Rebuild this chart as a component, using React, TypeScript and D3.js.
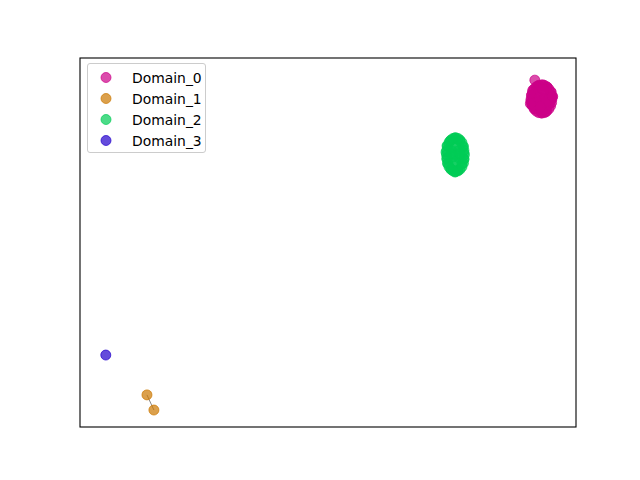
import React from "react";
import * as d3 from "d3";

const domains = ["Domain_0", "Domain_1", "Domain_2", "Domain_3"];
const colors = ["#cc0088", "#cc7700", "#00cc55", "#2200cc"];

const domain0: [number, number][] = [
  [91.7, 94.0], [92.3, 92.4], [93.3, 92.7], [94.2, 92.1], [91.3, 91.3], [92.7, 91.3],
  [94.0, 91.1], [95.0, 90.8], [91.1, 90.0], [92.1, 90.0], [93.3, 90.0], [94.6, 89.7],
  [95.2, 89.4], [90.9, 88.4], [91.9, 88.6], [92.9, 88.6], [94.1, 88.4], [94.9, 88.4],
  [91.1, 87.3], [92.3, 87.5], [93.5, 87.3], [94.6, 87.5], [91.7, 86.2], [92.9, 85.9],
  [93.9, 86.2], [93.1, 85.1], [93.9, 85.4],
  [95.15, 88.9], [95.08, 89.9], [94.87, 90.8], [94.53, 91.6], [94.1, 92.2], [93.6, 92.6],
  [93.05, 92.7], [92.5, 92.6], [92.0, 92.2], [91.57, 91.6], [91.23, 90.8], [91.02, 89.9],
  [90.95, 88.9], [91.02, 87.9], [91.23, 87.0], [91.57, 86.2], [92.0, 85.6], [92.5, 85.2],
  [93.05, 85.1], [93.6, 85.2], [94.1, 85.6], [94.53, 86.2], [94.87, 87.0], [95.08, 87.9],
  [92.6, 89.3], [93.6, 89.1], [92.2, 88.0], [93.9, 88.0], [92.8, 86.8], [93.4, 91.4],
  [95.3, 89.6], [90.8, 87.6],
];
const domain1: [number, number][] = [[13.5, 8.7], [14.9, 4.6]];
const domain2: [number, number][] = [
  [75.6, 78.3], [74.6, 77.5], [76.6, 77.5], [74.0, 76.2], [75.6, 76.4], [77.2, 75.9],
  [73.8, 74.5], [75.0, 74.8], [76.2, 74.8], [77.4, 74.3], [74.0, 72.9], [75.2, 73.2],
  [76.4, 72.9], [77.4, 72.6], [74.2, 71.3], [75.6, 71.5], [77.0, 71.3], [74.8, 69.9],
  [76.2, 69.6], [75.6, 69.1],
  [77.5, 73.8], [77.3, 76.1], [76.6, 77.8], [75.7, 78.4], [74.8, 77.8], [74.1, 76.1],
  [73.9, 73.8], [74.1, 71.5], [74.8, 69.8], [75.7, 69.2], [76.6, 69.8], [77.3, 71.5],
  [77.4, 75.0], [77.0, 77.1], [76.2, 78.2], [75.2, 78.2], [74.4, 77.1], [73.96, 75.0],
  [73.96, 72.6], [74.4, 70.5], [75.2, 69.4], [76.2, 69.4], [77.0, 70.5], [77.4, 72.6],
  [75.7, 73.8], [75.7, 75.6], [75.7, 72.0], [76.6, 74.0], [74.8, 74.0],
];
const domain3: [number, number][] = [[5.2, 19.5]];
const series = [domain0, domain1, domain2, domain3];

export default function App() {
  const W = 640, H = 480;
  const left = 80, right = 576, top = 58, bottom = 427;
  const x = d3.scaleLinear().domain([0, 100]).range([left, right]);
  const y = d3.scaleLinear().domain([0, 100]).range([bottom, top]);
  const line = d3.line<[number, number]>().x(d => x(d[0])).y(d => y(d[1]));
  const r = 5;
  return (
    <svg width={W} height={H} style={{ position: "absolute", left: 0, top: 0, background: "#fff" }}
      fontFamily="DejaVu Sans">
      <rect x={0} y={0} width={W} height={H} fill="#fff" />
      <path d={line(domain1) || ""} stroke="#888" strokeWidth={1} fill="none" />
      {series.map((pts, i) => (
        <g key={i}>
          {pts.map((p, j) => (
            <circle key={j} cx={x(p[0])} cy={y(p[1])} r={r} fill={colors[i]} fillOpacity={0.7}
              stroke={colors[i]} strokeOpacity={0.7} strokeWidth={1} />
          ))}
        </g>
      ))}
      <rect x={left} y={top} width={right - left} height={bottom - top} fill="none" stroke="#000" strokeWidth={1.1} />
      <g>
        <rect x={87.5} y={63.5} width={118} height={89} rx={2.5} fill="#fff" fillOpacity={0.8} stroke="#cccccc" strokeWidth={1} />
        {domains.map((d, i) => (
          <g key={d}>
            <circle cx={106} cy={77.5 + i * 21} r={r} fill={colors[i]} fillOpacity={0.7}
              stroke={colors[i]} strokeOpacity={0.7} strokeWidth={1} />
            <text x={132} y={77.5 + i * 21} dy="0.36em" fontSize={13.9} fill="#000">{d}</text>
          </g>
        ))}
      </g>
    </svg>
  );
}
